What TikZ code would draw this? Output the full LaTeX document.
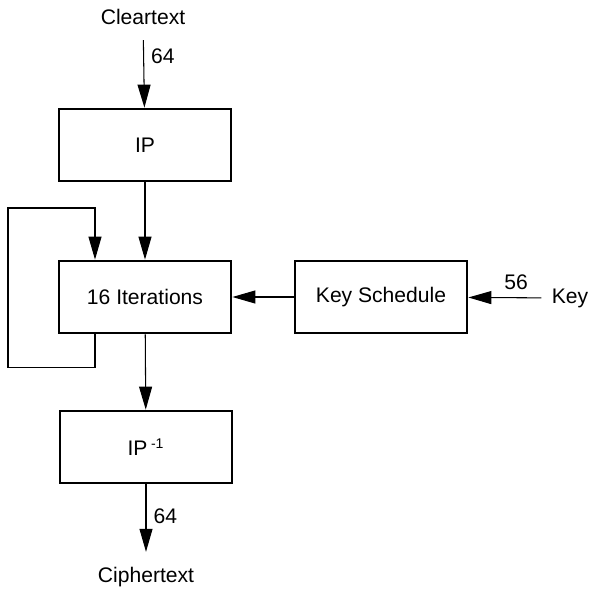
\documentclass[tikz,border=0pt]{standalone}
\usepackage{fontspec}
\setmainfont{Liberation Sans}
\usetikzlibrary{arrows.meta,positioning}

\begin{document}
\begin{tikzpicture}[x=0.02cm, y=-0.02cm,
    block/.style={draw, line width=1.6pt, minimum width=3.44cm, minimum height=1.44cm, font=\fontsize{12}{14}\selectfont},
    plain/.style={font=\fontsize{12}{14}\selectfont, inner sep=2pt},
    flow/.style={line width=0.6pt, -{Triangle[length=0.46cm, width=0.26cm]}}]
    \useasboundingbox (0,0) rectangle (590,588);
    % Boxes
    \node[block] (ip) at (145,145) {IP};
    \node[block] (iter) at (145,297) {16 Iterations};
    \node[block] (ipinv) at (146,447) {IP\,\textsuperscript{-1}};
    \node[block] (ks) at (381,297) {Key Schedule};
    % Outside texts
    \node[plain] (clear) at (143,17) {Cleartext};
    \node[plain] (cipher) at (146,577) {Ciphertext};
    \node[plain] (key) at (570,298) {Key};
    \coordinate (fb) at (95,0);
    \coordinate (lt) at (8,208);
    % Arrows
    \draw[flow, shorten <=0.23cm] (clear) -- node[plain, right=2pt, pos=0.35] (w1) {64} (ip);
    \draw[flow] (ip) -- (iter);
    \draw[flow] (iter) -- (ipinv);
    \draw[flow, shorten >=0.23cm] (ipinv) -- node[plain, right=2pt, pos=0.4] (w2) {64} (cipher);
    \draw[flow] (ks) -- (iter);
    \draw[flow, shorten <=0.13cm] (key) -- node[plain, above=2pt, pos=0.4] (w3) {56} (ks);
    % Feedback loop
    \draw[flow] (iter.south -| fb) -- ++(0,33) -| (lt) -| (iter.north -| fb);
\end{tikzpicture}
\end{document}
